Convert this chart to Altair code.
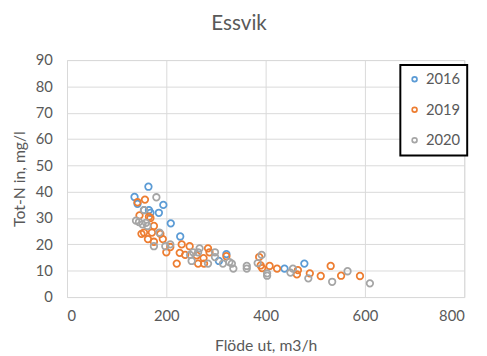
import altair as alt
import pandas as pd

# Data
x2016 = [136, 142, 164, 165, 168, 155, 194, 185, 209, 228, 321, 306, 438, 478]
y2016 = [38, 35.4, 41.9, 33, 32, 33, 35, 32, 28, 23, 16.3, 13.7, 10.8, 12.7]

x2019 = [142, 157, 146, 150, 155, 165, 168, 175, 163, 175, 171, 188, 193, 200, 208,
         221, 231, 227, 238, 247, 261, 264, 276, 275, 284, 287, 321, 387, 390, 393,
         408, 423, 463, 465, 489, 511, 531, 552, 590]
y2019 = [36, 37, 31, 24, 24.5, 30.5, 30, 27, 22, 21, 24.5, 24, 22, 17, 19,
         12.7, 20, 16.8, 16, 19.3, 15.8, 12.7, 12.7, 14.8, 18.5, 17, 15.5, 15.2, 12, 11,
         11.8, 10.8, 8.6, 10.2, 9, 8, 11.8, 8.1, 8]

x2020 = [139, 155, 145, 152, 162, 159, 180, 175, 186, 198, 208, 251, 254, 264, 267,
         284, 298, 298, 314, 327, 335, 332, 362, 362, 384, 392, 403, 403, 450, 455,
         486, 534, 565, 610, 248]
y2020 = [29, 33, 28.5, 27.6, 27, 28.2, 37.9, 19.3, 24.5, 19.3, 20, 13.7, 17, 17, 18.5,
         12.7, 17, 15.2, 12.7, 13.3, 10.8, 12.7, 11.8, 10.8, 12.9, 16, 9, 8.1, 9.3, 10.8,
         7.1, 5.8, 9.8, 5.2, 16]

years = ["2016", "2019", "2020"]
colors = ["#5B9BD5", "#ED7D31", "#A5A5A5"]

rows = []
for yr, xs, ys in [("2016", x2016, y2016), ("2019", x2019, y2019), ("2020", x2020, y2020)]:
    for a, b in zip(xs, ys):
        rows.append({"flow": a, "totn": b, "year": yr})
df = pd.DataFrame(rows)

FONT = "Lato"
GREY = "#595959"

chart = alt.Chart(df).mark_point(
    shape="circle", filled=False, size=44, strokeWidth=1.8, opacity=1
).encode(
    x=alt.X("flow:Q",
            scale=alt.Scale(domain=[0, 800], nice=False),
            axis=alt.Axis(values=[0, 200, 400, 600, 800], title="Flöde ut, m3/h",
                          titleX=202, titleY=54, titleBaseline="alphabetic",
                          labelPadding=12)),
    y=alt.Y("totn:Q",
            scale=alt.Scale(domain=[0, 90], nice=False),
            axis=alt.Axis(values=list(range(0, 91, 10)), title="Tot-N in, mg/l",
                          titleX=-48, titleY=120.5, titleAngle=270,
                          titleAlign="center", titleBaseline="middle",
                          labelPadding=15, domain=False)),
    color=alt.Color("year:N",
                    scale=alt.Scale(domain=years, range=colors),
                    legend=alt.Legend(title=None, orient="none", legendX=339, legendY=5,
                                      symbolType="circle", symbolSize=24,
                                      symbolStrokeWidth=1.7, symbolFillColor="transparent",
                                      labelFontSize=15, labelFont=FONT, labelColor=GREY,
                                      rowPadding=15, padding=7, labelOffset=4,
                                      strokeColor="black", fillColor="white")),
).properties(
    width=404,
    height=241,
    title=alt.TitleParams("Essvik", fontSize=21, font=FONT, color=GREY, fontWeight="normal",
                          anchor="middle", frame="group", dx=-27, offset=3,
                          baseline="alphabetic"),
    autosize=alt.AutoSizeParams(type="none"),
    padding={"left": 60, "top": 50, "right": 15, "bottom": 57},
).configure_view(
    stroke="#d9d9d9", strokeWidth=1
).configure_axis(
    grid=True, gridColor="#d9d9d9", gridWidth=1, ticks=False,
    domainColor="#d9d9d9", domainWidth=1,
    labelFont=FONT, labelFontSize=15, labelColor=GREY,
    titleFont=FONT, titleFontSize=16, titleColor=GREY, titleFontWeight="normal",
).configure_legend(
    strokeWidth=2
)

chart.save("out.html", embed_options={"renderer": "svg", "actions": False})
